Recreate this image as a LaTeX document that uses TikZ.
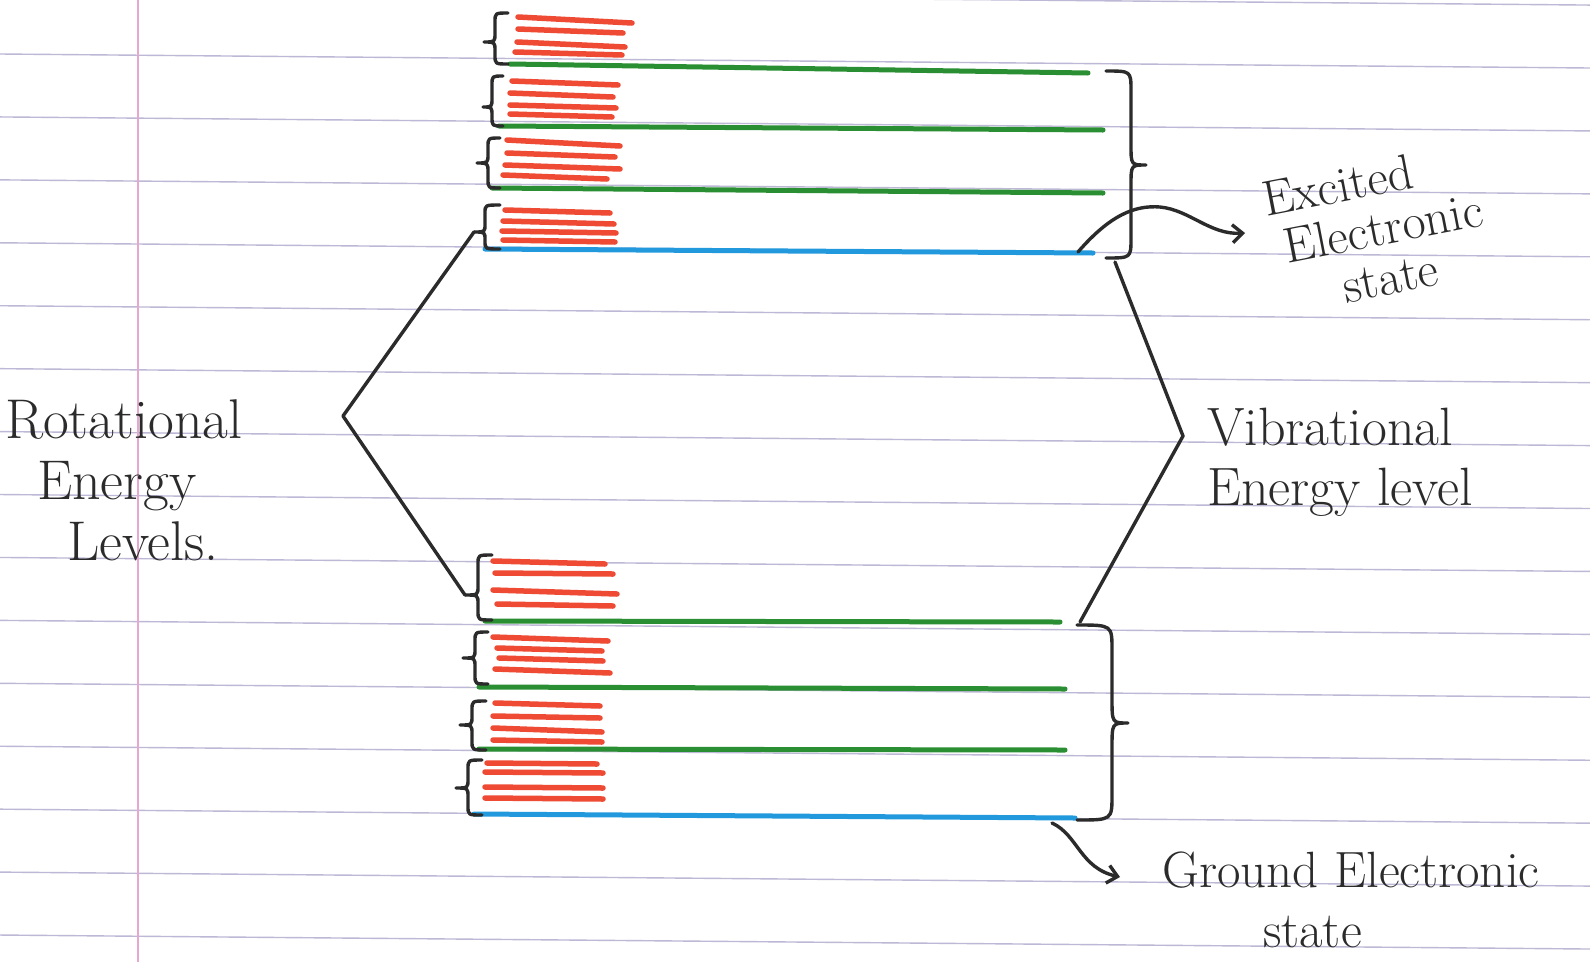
\documentclass[tikz,border=0pt]{standalone}
\usetikzlibrary{arrows.meta}
\definecolor{paperline}{HTML}{BDB8D6}
\definecolor{marginpink}{HTML}{E9A6CF}
\definecolor{rotred}{HTML}{EE4A34}
\definecolor{vibgreen}{HTML}{2A8F32}
\definecolor{elecblue}{HTML}{2299DD}
\definecolor{ink}{HTML}{2B2B2B}
% #1 end x, #2 straight x, #3 tip x, #4 y top, #5 y mid, #6 y bottom, #7 corner size
\newcommand\handbrace[7]{%
  \draw[pen] (#1,#4) .. controls (#2,#4) .. (#2,{#4+#7}) -- (#2,{#5-#7})
    .. controls (#2,#5) .. (#3,#5) .. controls (#2,#5) .. (#2,{#5+#7})
    -- (#2,{#6-#7}) .. controls (#2,#6) .. (#1,#6);}
\begin{document}
\begin{tikzpicture}[x=1pt,y=-1pt,
  rule/.style={paperline, line width=1.4pt},
  rotlvl/.style={rotred, line width=5.5pt, line cap=round},
  viblvl/.style={vibgreen, line width=5pt, line cap=round},
  elelvl/.style={elecblue, line width=5pt, line cap=round},
  pen/.style={ink, line width=3.4pt, line cap=round, line join=round},
  lbl/.style={ink, inner sep=0pt, align=left, anchor=base west}]
\useasboundingbox (0,0) rectangle (1590,962);
\fill[white] (0,0) rectangle (1590,962);
% ruled paper
\foreach \k in {-1,...,14} \draw[rule] (0,{54+62.93*\k}) -- (1590,{68+62.93*\k});
\draw[marginpink, line width=1.4pt] (138,0) -- (138,962);
% rotational levels (red)
\foreach \xa/\ya/\xb/\yb in {
  518/17/632/23, 518/29/623/33, 517/42/625/47, 515/52/622/55,
  512/81/618/85, 510/93/613/97, 510/105/616/108, 510/114/612/117,
  507/140/620/146, 507/153/615/157, 505/165/620/169, 503/175/607/179,
  505/210/610/213, 503/221/614/224, 502/231/616/233, 503/240/615/242,
  493/561/605/564, 495/573/613/574, 493/590/617/594, 497/604/613/606,
  493/637/608/641, 497/648/602/651, 499/658/603/661, 495/669/610/673,
  495/703/600/706, 493/716/600/718, 493/728/602/732, 493/740/602/742,
  487/763/597/764, 485/772/603/773, 485/787/603/788, 485/798/603/799}
  \draw[rotlvl] (\xa,\ya) -- (\xb,\yb);
% vibrational levels (green) and electronic ground levels (blue)
\draw[viblvl] (510,64) -- (1088,73);
\draw[viblvl] (499,126) -- (1103,130);
\draw[viblvl] (492,188) -- (1103,193);
\draw[elelvl] (485,249) -- (1093,253);
\draw[viblvl] (485,621) -- (1060,622);
\draw[viblvl] (479,687) -- (1065,689);
\draw[viblvl] (479,749) -- (1065,750);
\draw[elelvl] (474,814) -- (1075,818);
% small braces on the left of each vibrational level
\handbrace{508}{495}{484}{13}{42}{64}{9}
\handbrace{503}{492}{483}{76}{107}{126}{9}
\handbrace{500}{488}{477}{138}{163}{188}{9}
\handbrace{500}{485}{474}{205}{232}{249}{8}
\handbrace{492}{478}{465}{555}{595}{620}{9}
\handbrace{488}{475}{463}{632}{658}{684}{9}
\handbrace{486}{472}{460}{701}{725}{750}{9}
\handbrace{482}{468}{456}{760}{788}{815}{9}
% big braces on the right
\handbrace{1106}{1131}{1146}{71}{165}{258}{20}
\handbrace{1077}{1112}{1128}{625}{723}{820}{25}
% connector points
\coordinate (rotTip) at (343,416);
\coordinate (rotUp) at (474,232);
\coordinate (rotDown) at (465,595);
\coordinate (vibTop) at (1115,262);
\coordinate (vibTip) at (1183,436);
\coordinate (vibBot) at (1080,622);
\coordinate (excStart) at (1078,252);
\coordinate (excEnd) at (1245,233);
\coordinate (gndStart) at (1052,823);
\coordinate (gndEnd) at (1120,877);
% labels (anchor = baseline of the last line)
\node[lbl, font=\fontsize{56}{61}\selectfont] (rotLbl) at (5,560)
  {Rotational\\\hspace*{32pt}Energy\\\hspace*{62pt}Levels.};
\node[lbl, font=\fontsize{54}{60}\selectfont] (vibLbl) at (1207,505)
  {Vibrational\\Energy level};
\node[lbl, font=\fontsize{50}{50}\selectfont, rotate=11] (excLbl) at (1285,315)
  {Excited\\\hspace*{12pt}Electronic\\\hspace*{62pt}state};
\node[lbl, font=\fontsize{51}{60}\selectfont] (gndLbl) at (1162,947)
  {Ground Electronic\\\hspace*{101pt}state};
% connectors
\draw[pen] (rotUp) -- (rotTip) -- (rotDown);
\draw[pen] (vibTop) -- (vibTip) -- (vibBot);
\draw[pen, -{Straight Barb[length=10pt,width=18pt]}] (excStart) .. controls (1110,215) and (1135,205) .. (1160,207)
   .. controls (1190,210) and (1210,235) .. (excEnd);
\draw[pen, -{Straight Barb[length=10pt,width=18pt]}] (gndStart) .. controls (1078,835) and (1080,868) .. (gndEnd);
\end{tikzpicture}
\end{document}
